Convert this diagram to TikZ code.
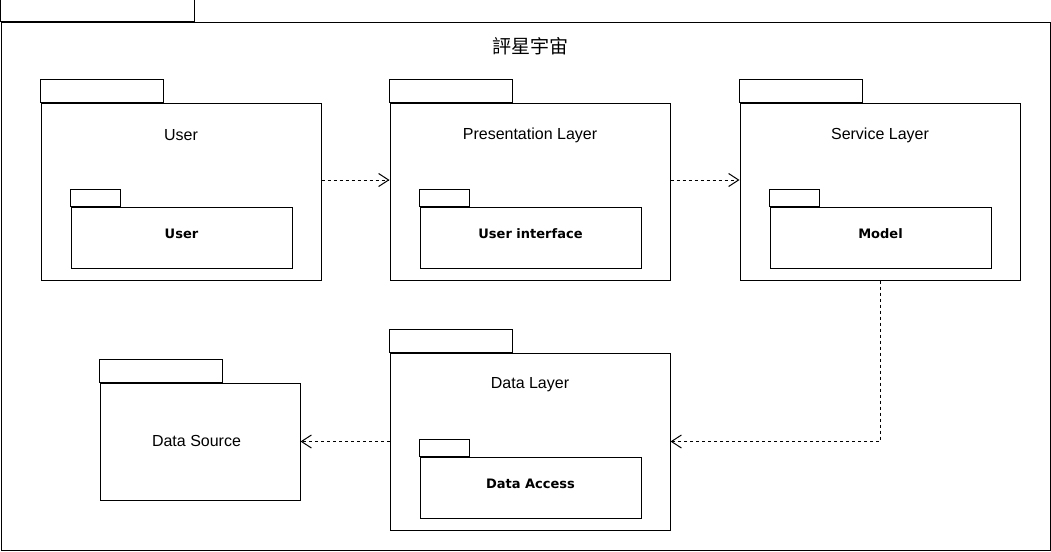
\documentclass[tikz,border=0pt]{standalone}
\usepackage{fontspec}
\setmainfont{Liberation Sans}
\newfontfamily\dvfont{DejaVu Sans}
\newfontfamily\cjk{Noto Sans CJK TC}
\usetikzlibrary{arrows.meta,positioning}

\tikzset{
  pkg/.style={shape=rectangle,draw=black,line width=1pt,inner sep=0pt},
  tab/.style={draw=black,line width=1pt},
  pkglabel/.style={font=\fontsize{16}{19}\selectfont},
  sublabel/.style={font=\dvfont\bfseries\fontsize{13}{15}\selectfont},
  dep/.style={-{Straight Barb[length=10pt,width=13pt]},line width=1pt,dash pattern=on 3pt off 3pt}
}

\begin{document}
\begin{tikzpicture}[x=1pt,y=-1pt]
    \useasboundingbox (0,0) rectangle (1051,551);

    % outer package
    \node[pkg,minimum width=1049pt,minimum height=528pt] (frame) at (525.5,286.5) {};
    \draw[tab] (frame.north west) rectangle ++(194,-22);
    \node[font=\cjk\fontsize{19}{22}\selectfont] (title) at (530,46) {評星宇宙};

    % user
    \node[pkg,minimum width=280pt,minimum height=177pt] (user) at (181,191.5) {};
    \draw[tab] (user.north west) rectangle ++(123,-23);
    \node[pkglabel] (userlbl) at (181,135) {User};
    \node[pkg,minimum width=221pt,minimum height=61pt] (userin) at (181.5,237.5) {};
    \draw[tab] (userin.north west) rectangle ++(50,-17);
    \node[sublabel] (userinlbl) at (181.5,234) {User};

    % presentation layer
    \node[pkg,minimum width=280pt,minimum height=177pt] (pres) at (530,191.5) {};
    \draw[tab] (pres.north west) rectangle ++(123,-23);
    \node[pkglabel] (preslbl) at (530,135) {Presentation Layer};
    \node[pkg,minimum width=221pt,minimum height=61pt] (ui) at (530.5,237.5) {};
    \draw[tab] (ui.north west) rectangle ++(50,-17);
    \node[sublabel] (uilbl) at (530.5,234) {User interface};

    % service layer
    \node[pkg,minimum width=280pt,minimum height=177pt] (svc) at (880,191.5) {};
    \draw[tab] (svc.north west) rectangle ++(123,-23);
    \node[pkglabel] (svclbl) at (880,135) {Service Layer};
    \node[pkg,minimum width=221pt,minimum height=61pt] (model) at (880.5,237.5) {};
    \draw[tab] (model.north west) rectangle ++(50,-17);
    \node[sublabel] (modellbl) at (880.5,234) {Model};

    % data layer
    \node[pkg,minimum width=280pt,minimum height=177pt] (data) at (530,441.5) {};
    \draw[tab] (data.north west) rectangle ++(123,-23);
    \node[pkglabel] (datalbl) at (530,385) {Data Layer};
    \node[pkg,minimum width=221pt,minimum height=61pt] (access) at (530.5,487.5) {};
    \draw[tab] (access.north west) rectangle ++(50,-17);
    \node[sublabel] (accesslbl) at (530.5,484) {Data Access};

    % data source
    \node[pkg,minimum width=200pt,minimum height=117pt] (src) at (200,441.5) {};
    \draw[tab] (src.north west) rectangle ++(123,-23);
    \node[pkglabel] (srclbl) at (196.5,441) {Data Source};

    % dependencies
    \draw[dep] ([yshift=11.5pt]user.east) -- ([yshift=11.5pt]pres.west);
    \draw[dep] ([yshift=11.5pt]pres.east) -- ([yshift=11.5pt]svc.west);
    \draw[dep] (svc.south) |- (data.east);
    \draw[dep] (data.west) -- (src.east);
\end{tikzpicture}
\end{document}
